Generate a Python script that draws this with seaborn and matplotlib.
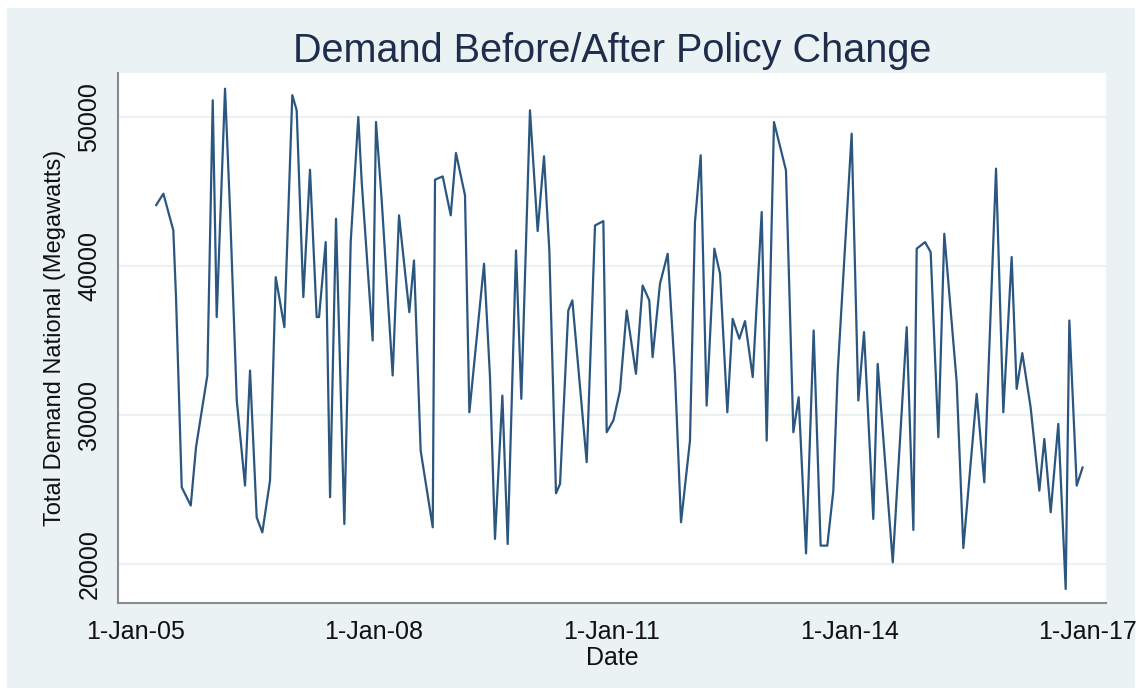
import numpy as np
import pandas as pd
import matplotlib
matplotlib.use("Agg")
import matplotlib.pyplot as plt
import seaborn as sns
from matplotlib.patches import Rectangle

sns.set_style("white")
plt.rcParams['font.family'] = ['Liberation Sans', 'DejaVu Sans']

year_pos = [
    2005.252, 2005.345, 2005.470, 2005.504, 2005.576, 2005.690, 2005.756, 2005.899,
    2005.967, 2006.017, 2006.122, 2006.185, 2006.270, 2006.374, 2006.437, 2006.521,
    2006.592, 2006.689, 2006.761, 2006.870, 2006.970, 2007.025, 2007.109, 2007.193,
    2007.277, 2007.307, 2007.391, 2007.446, 2007.521, 2007.626, 2007.706, 2007.802,
    2007.845,
    2007.983, 2008.025, 2008.097, 2008.235, 2008.315, 2008.445, 2008.504, 2008.588,
    2008.740, 2008.769, 2008.866, 2008.967, 2009.033, 2009.147, 2009.202, 2009.387,
    2009.462, 2009.525, 2009.618, 2009.685, 2009.790, 2009.857, 2009.966, 2010.063,
    2010.143, 2010.210, 2010.294, 2010.345, 2010.449, 2010.500, 2010.681, 2010.786,
    2010.891, 2010.933,
    2011.017, 2011.101, 2011.185, 2011.302, 2011.386, 2011.470, 2011.512, 2011.605,
    2011.702, 2011.794, 2011.870, 2011.983, 2012.046, 2012.118, 2012.193, 2012.290,
    2012.362, 2012.454, 2012.521, 2012.605, 2012.677, 2012.774, 2012.887, 2012.950,
    2013.042, 2013.193, 2013.286, 2013.353, 2013.446, 2013.542, 2013.630, 2013.714,
    2013.790, 2013.845,
    2014.021, 2014.105, 2014.177, 2014.294, 2014.349, 2014.539, 2014.715, 2014.799,
    2014.841, 2014.946, 2015.017, 2015.114, 2015.189, 2015.345, 2015.429, 2015.597,
    2015.693, 2015.841, 2015.933, 2016.038, 2016.101, 2016.172, 2016.277, 2016.387,
    2016.450, 2016.530, 2016.626, 2016.719, 2016.765, 2016.858, 2016.933,
]

# total national demand (megawatts)
demand_mw = [
    44070, 44850, 42390, 37910, 25150, 23920, 27830, 32650,
    51120, 36570, 51900, 43730, 30970, 25260, 32980, 23130,
    22120, 25600, 39250, 35890, 51460, 50450, 37910, 46460,
    36570, 36570, 41600, 24480, 43170, 22680, 41600, 50000,
    45630,
    35000, 49660, 44400, 32650, 43400, 36900, 40370, 27610,
    22460, 45790, 46010, 43400, 47580, 44740, 30180, 40150,
    32540, 21680, 31300, 21340, 41040, 31080, 50450, 42340,
    47360, 41040, 24740, 25370, 37010, 37690, 26830, 42720,
    43010, 28840,
    29630, 31640, 37010, 32760, 38690, 37690, 33880, 38810,
    40820, 32760, 22800, 28280, 42950, 47430, 30630, 41160,
    39480, 30180, 36450, 35110, 36300, 32540, 43620, 28280,
    49660, 46420, 28840, 31190, 20710, 35670, 21230, 21230,
    24920, 32870,
    48880, 30970, 35560, 23020, 33430, 20110, 35890, 22280,
    41160, 41600, 40930, 28510, 42160, 32200, 21070, 31420,
    25480, 46530, 30180, 40600, 31750, 34150, 30520, 24920,
    28390, 23470, 29400, 18320, 36340, 25260, 26490,
]

tick_dates = ['2005-01-01', '2008-01-01', '2011-01-01', '2014-01-01', '2017-01-01']
tick_labels = ['1-Jan-05', '1-Jan-08', '1-Jan-11', '1-Jan-14', '1-Jan-17']
y_ticks = [20000, 30000, 40000, 50000]

base = pd.Timestamp('2005-01-01')
dates = base + pd.to_timedelta((np.array(year_pos) - 2005) * 365.25, unit='D')
df = pd.DataFrame({'Date': dates, 'Demand': demand_mw})

W, H = 1138, 692
fig = plt.figure(figsize=(W / 100, H / 100), dpi=100, facecolor='white')
# light graph region like Stata's s2color scheme
fig.patches.append(Rectangle((7 / W, 4 / H), 1128 / W, 680 / H,
                             transform=fig.transFigure, facecolor='#eaf2f3',
                             edgecolor='none', zorder=-5))
ax = fig.add_axes([118 / W, 89 / H, 988 / W, 530 / H])
ax.set_facecolor('white')

sns.lineplot(data=df, x='Date', y='Demand', ax=ax, color='#2a5680', linewidth=1.6)

ax.set_ylim(17380, 52950)
ax.set_xlim(pd.Timestamp('2004-10-10'), pd.Timestamp('2017-03-25'))
ax.set_yticks(y_ticks)
ax.set_xticks(pd.to_datetime(tick_dates))
ax.set_xticklabels(tick_labels)

ax.yaxis.grid(True, color='#eaf2f3', linewidth=1.5)
ax.xaxis.grid(False)
ax.set_axisbelow(True)

for side in ['top', 'right']:
    ax.spines[side].set_visible(False)
for side in ['left', 'bottom']:
    ax.spines[side].set_color('#8a8a8a')
    ax.spines[side].set_linewidth(1.5)

ax.tick_params(axis='both', direction='out', length=6, width=1.2, color='#8a8a8a',
               labelsize=18, labelcolor='#111111', pad=6)
ax.tick_params(axis='y', labelrotation=90)
for lbl in ax.get_yticklabels():
    lbl.set_va('center')

ax.set_xlabel('Date', fontsize=18, color='#111111', labelpad=2)
ax.set_ylabel('Total Demand National (Megawatts)', fontsize=17, color='#111111', labelpad=8)

fig.text(612 / W, 1 - 51 / H, 'Demand Before/After Policy Change', ha='center', va='center',
         fontsize=28.5, color='#1f2d4d')

fig.savefig('out.png', dpi=100, facecolor=fig.get_facecolor())
